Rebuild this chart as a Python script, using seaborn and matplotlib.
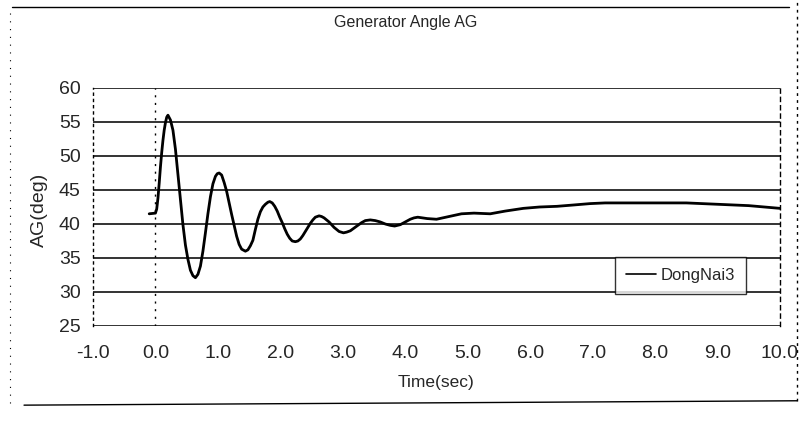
import matplotlib
matplotlib.use("Agg")
import matplotlib.pyplot as plt
from matplotlib.lines import Line2D
import seaborn as sns
import pandas as pd

# Generator rotor angle response, unit DongNai3
time_sec = [-0.10, 0.00, 0.02, 0.04, 0.06, 0.08, 0.10, 0.12, 0.14, 0.16, 0.18, 0.20,
            0.24, 0.28, 0.32, 0.36, 0.40, 0.44, 0.48, 0.52, 0.56, 0.60, 0.64,
            0.68, 0.72, 0.76, 0.80, 0.84, 0.88, 0.92, 0.96, 0.99, 1.02,
            1.06, 1.10, 1.14, 1.18, 1.22, 1.26, 1.30, 1.34, 1.38, 1.44,
            1.48, 1.52, 1.56, 1.60, 1.64, 1.68, 1.72, 1.76, 1.80, 1.83,
            1.87, 1.91, 1.95, 1.99, 2.03, 2.07, 2.11, 2.15, 2.19, 2.24,
            2.28, 2.32, 2.36, 2.40, 2.44, 2.48, 2.52, 2.56, 2.62,
            2.66, 2.70, 2.74, 2.78, 2.82, 2.86, 2.90, 2.94, 3.01,
            3.06, 3.12, 3.18, 3.24, 3.30, 3.36, 3.44,
            3.52, 3.60, 3.68, 3.76, 3.83,
            3.92, 4.00, 4.08, 4.14, 4.20,
            4.35, 4.50, 4.70, 4.90, 5.10, 5.36, 5.60, 5.89, 6.15, 6.43,
            6.70, 6.96, 7.20, 7.44, 8.00, 8.50, 9.00, 9.50, 10.00]
angle_deg = [41.5, 41.6, 42.2, 43.8, 46.0, 48.4, 50.5, 52.3, 53.8, 54.9, 55.7, 56.0,
             55.3, 53.8, 51.0, 47.3, 43.6, 39.9, 36.9, 34.8, 33.2, 32.4, 32.1,
             32.6, 33.8, 36.0, 38.7, 41.5, 44.0, 45.9, 47.0, 47.4, 47.5,
             47.2, 46.1, 44.8, 43.1, 41.4, 39.8, 38.2, 37.0, 36.3, 36.0,
             36.2, 36.8, 37.6, 39.2, 40.7, 41.8, 42.5, 42.9, 43.2, 43.3,
             43.1, 42.6, 41.9, 41.0, 40.2, 39.3, 38.5, 37.9, 37.5, 37.4,
             37.5, 37.8, 38.3, 38.9, 39.5, 40.1, 40.6, 41.0, 41.2,
             41.1, 40.9, 40.6, 40.3, 39.9, 39.5, 39.2, 38.9, 38.7,
             38.8, 39.0, 39.4, 39.8, 40.2, 40.5, 40.6,
             40.5, 40.3, 40.0, 39.8, 39.7,
             39.9, 40.3, 40.7, 40.9, 41.0,
             40.8, 40.7, 41.1, 41.5, 41.6, 41.5, 41.9, 42.3, 42.5, 42.6,
             42.8, 43.0, 43.1, 43.1, 43.1, 43.1, 42.9, 42.7, 42.3]
series_name = "DongNai3"

x_ticks = [-1, 0, 1, 2, 3, 4, 5, 6, 7, 8, 9, 10]
x_tick_labels = ["-1.0", "0.0", "1.0", "2.0", "3.0", "4.0", "5.0",
                 "6.0", "7.0", "8.0", "9.0", "10.0"]
y_ticks = [25, 30, 35, 40, 45, 50, 55, 60]
y_tick_labels = ["25", "30", "35", "40", "45", "50", "55", "60"]

title_text = "Generator Angle AG"
x_label = "Time(sec)"
y_label = "AG(deg)"

sns.set_style("white")
plt.rcParams["font.family"] = ["Liberation Sans", "DejaVu Sans"]

df = pd.DataFrame({"Time": time_sec, "Angle": angle_deg, "Unit": series_name})

fig = plt.figure(figsize=(8.01, 4.38), dpi=100)
fig.patch.set_facecolor("white")

# chart frame
fig.add_artist(Line2D([0.015, 0.985], [0.985, 0.985], transform=fig.transFigure,
                      color="black", lw=1.0))
fig.add_artist(Line2D([0.03, 0.995], [0.075, 0.085], transform=fig.transFigure,
                      color="black", lw=1.0))
fig.add_artist(Line2D([0.995, 0.995], [0.085, 0.995], transform=fig.transFigure,
                      color="black", lw=1.0, ls=(0, (2, 3))))
fig.add_artist(Line2D([0.012, 0.012], [0.08, 0.98], transform=fig.transFigure,
                      color="black", lw=0.8, ls=(0, (1, 6))))

ax = fig.add_axes([93 / 801, 1 - 326 / 438, (780 - 93) / 801, (326 - 88) / 438])

sns.lineplot(data=df, x="Time", y="Angle", hue="Unit", palette=["black"],
             linewidth=2.0, ax=ax, sort=False, zorder=3)

ax.set_xlim(-1, 10)
ax.set_ylim(25, 60)
ax.set_xticks(x_ticks)
ax.set_xticklabels(x_tick_labels)
ax.set_yticks(y_ticks)
ax.set_yticklabels(y_tick_labels)
ax.tick_params(axis="x", length=0, pad=14, labelsize=14)
ax.tick_params(axis="y", length=0, pad=9, labelsize=14)

# horizontal gridlines
for v in y_ticks:
    ax.axhline(v, color="#111111", lw=1.2, zorder=1)
# vertical axis at t = 0
ax.axvline(0, color="black", lw=1.0, ls=(0, (1.5, 4)), zorder=2)

for side in ["top", "bottom"]:
    ax.spines[side].set_visible(False)
ax.spines["left"].set_linestyle((0, (1.5, 3)))
ax.spines["left"].set_color("black")
ax.spines["left"].set_linewidth(1.0)
ax.spines["right"].set_linestyle((0, (3, 3)))
ax.spines["right"].set_color("black")
ax.spines["right"].set_linewidth(1.0)

ax.set_xlabel(x_label, fontsize=12.5, labelpad=9)
ax.set_ylabel(y_label, fontsize=14)
ax.yaxis.set_label_coords(-0.066, 0.49)

fig.text(0.506, 0.948, title_text, ha="center", va="center", fontsize=11.5)

leg = ax.legend(loc="upper left", bbox_to_anchor=(0.76, 0.29),
                bbox_transform=ax.transAxes,
                frameon=True, fancybox=False, shadow=False, fontsize=12,
                handlelength=1.8, handletextpad=0.3, borderpad=0.65,
                borderaxespad=0, title=None)
leg.get_frame().set_edgecolor("black")
leg.get_frame().set_linewidth(1.0)
leg.get_frame().set_facecolor("white")
leg.set_zorder(5)
for h in leg.get_lines():
    h.set_linewidth(1.2)

fig.savefig("out.png", dpi=100, facecolor="white")
